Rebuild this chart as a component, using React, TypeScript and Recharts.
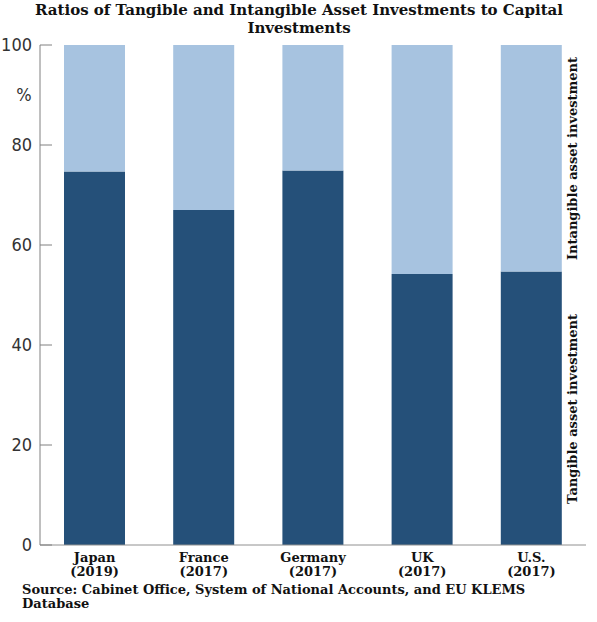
import { Bar, BarChart, XAxis, YAxis } from "recharts";

const countries = ["Japan", "France", "Germany", "UK", "U.S."];
const years = ["(2019)", "(2017)", "(2017)", "(2017)", "(2017)"];
const tangible = [74.7, 67.0, 74.9, 54.2, 54.7];
const intangible = [25.3, 33.0, 25.1, 45.8, 45.3];
const yTicks = [0, 20, 40, 60, 80, 90, 100];

const data = countries.map((c, i) => ({
	name: c,
	year: years[i],
	tangible: tangible[i],
	intangible: intangible[i],
}));

const serif = "'DejaVu Serif', serif";
const narrow = "'Liberation Sans Narrow', 'DejaVu Sans Condensed', sans-serif";

function YTick(props: any) {
	const { x, y, payload } = props;
	if (payload.value === 90) {
		return (
			<text x={x - 8} y={y} dy="0.35em" textAnchor="middle" fontSize={18} fontFamily={narrow} fill="#333">
				%
			</text>
		);
	}
	return (
		<g>
			<line x1={x + 8} x2={x + 20} y1={y} y2={y} stroke="#808080" strokeWidth={1} />
			<text x={x} y={y} dy="0.35em" textAnchor="end" fontSize={18} fontFamily={narrow} fill="#333">
				{payload.value}
			</text>
		</g>
	);
}

function XTick(props: any) {
	const { x, y, index } = props;
	return (
		<g>
			<text x={x} y={y + 9} textAnchor="middle" fontSize={13} fontWeight="bold" fontFamily={serif} fill="#111">
				{countries[index]}
			</text>
			<text x={x} y={y + 23} textAnchor="middle" fontSize={13} fontWeight="bold" fontFamily={serif} fill="#111">
				{years[index]}
			</text>
		</g>
	);
}

export default function App() {
	return (
		<div style={{ position: "absolute", left: 0, top: 0, width: 597, height: 622, background: "#fff" }}>
			<BarChart width={597} height={622} data={data} margin={{ top: 45, right: 11, bottom: 37, left: 0 }}>
				<XAxis
					dataKey="name"
					height={40}
					tickLine={false}
					axisLine={{ stroke: "#909090" }}
					tick={<XTick />}
					interval={0}
				/>
				<YAxis
					width={40}
					domain={[0, 100]}
					ticks={yTicks}
					interval={0}
					tickSize={0}
					tickMargin={8}
					axisLine={{ stroke: "#808080" }}
					tick={<YTick />}
				/>
				<Bar dataKey="tangible" stackId="a" fill="#255079" barSize={61} isAnimationActive={false} />
				<Bar dataKey="intangible" stackId="a" fill="#a7c3e0" barSize={61} isAnimationActive={false} />
			</BarChart>
			<svg width={597} height={622} style={{ position: "absolute", left: 0, top: 0, pointerEvents: "none" }}>
				<g fontFamily={serif} fontWeight="bold" fill="#111">
					<text x={299} y={15} textAnchor="middle" fontSize={15}>
						Ratios of Tangible and Intangible Asset Investments to Capital
					</text>
					<text x={299} y={33} textAnchor="middle" fontSize={15}>
						Investments
					</text>
					<text x={22} y={594} fontSize={13}>
						Source: Cabinet Office, System of National Accounts, and EU KLEMS
					</text>
					<text x={22} y={608} fontSize={13}>
						Database
					</text>
					<text transform="translate(577,158.5) rotate(-90)" textAnchor="middle" fontSize={13}>
						Intangible asset investment
					</text>
					<text transform="translate(577,409) rotate(-90)" textAnchor="middle" fontSize={13}>
						Tangible asset investment
					</text>
				</g>
			</svg>
		</div>
	);
}
